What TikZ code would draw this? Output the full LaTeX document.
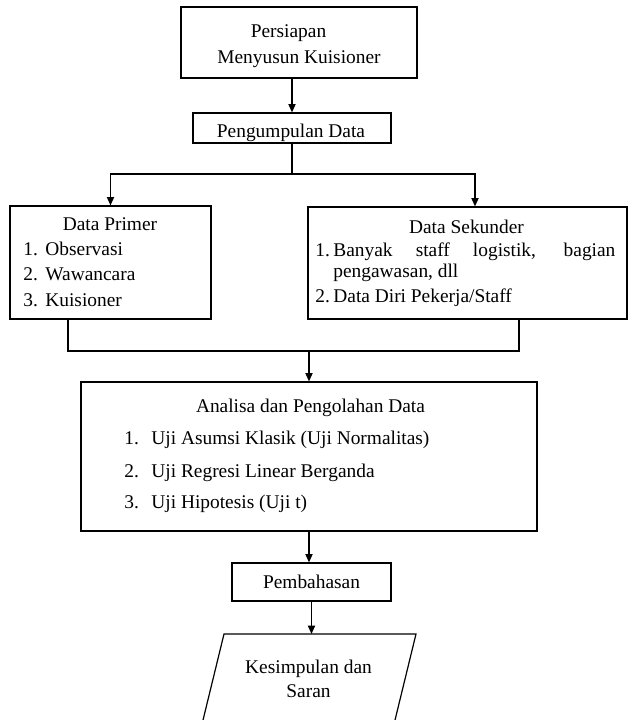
\documentclass[tikz,border=0pt]{standalone}
\usepackage{fontspec}
\setmainfont{Liberation Serif}
\usetikzlibrary{positioning,arrows.meta}

\begin{document}
\begin{tikzpicture}[
        x=0.5pt, y=-0.5pt,
        every node/.style={
            inner sep=0pt,
            font=\fontsize{9.7}{12}\selectfont
        },
        stepbox/.style={
            rectangle,
            draw,
            line width=0.6pt
        },
        txt/.style={anchor=base},
        item/.style={anchor=base west},
        link/.style={line width=0.6pt},
        arrow/.style={
            -{Triangle[width=3.6pt,length=4.2pt]},
            line width=0.6pt
        }
    ]
        \useasboundingbox (0,0) rectangle (632,720);

        % boxes
        \node[stepbox, minimum width=118pt, minimum height=35.5pt] (prep) at (299,42.5) {};
        \node[stepbox, minimum width=99pt, minimum height=15pt] (collect) at (292,128) {};
        \node[stepbox, minimum width=100.5pt, minimum height=56.5pt] (primer) at (110.5,262.5) {};
        \node[stepbox, minimum width=159.5pt, minimum height=56pt] (sekunder) at (467.5,263) {};
        \node[stepbox, minimum width=228pt, minimum height=74.5pt] (analisa) at (309,456.5) {};
        \node[stepbox, minimum width=79.5pt, minimum height=19pt] (bahas) at (311.5,582) {};

        % output parallelogram (runs off the page at the bottom)
        \coordinate (simpNW) at (224,634);
        \coordinate (simpNE) at (416,634);
        \coordinate (simpSE) at (394.3,723);
        \coordinate (simpSW) at (202.3,723);
        \coordinate (simp) at (311.5,634);
        \draw[link] (simpNW) -- (simpNE) -- (simpSE) -- (simpSW) -- cycle;

        % texts
        \node[txt] (prepA) at (288.5,37) {Persiapan};
        \node[txt] (prepB) at (299,63) {Menyusun Kuisioner};
        \node[txt] (collectT) at (291,137) {Pengumpulan Data};

        \node[txt] (primT) at (110,230) {Data Primer};
        \node[item] (prim1) at (23,255) {\makebox[11pt][l]{1.}Observasi};
        \node[item] (prim2) at (23,280) {\makebox[11pt][l]{2.}Wawancara};
        \node[item] (prim3) at (23,306) {\makebox[11pt][l]{3.}Kuisioner};

        \node[txt] (sekT) at (466.5,233) {Data Sekunder};
        \node[item] (sek1) at (315,256) {\makebox[9pt][l]{1.}\makebox[141pt][s]{Banyak staff logistik, bagian}};
        \node[item] (sek1b) at (333,277) {pengawasan, dll};
        \node[item] (sek2) at (315,302) {\makebox[9pt][l]{2.}Data Diri Pekerja/Staff};

        \node[txt] (anaT) at (310.5,412) {Analisa dan Pengolahan Data};
        \node[item] (ana1) at (124,444) {\makebox[13.5pt][l]{1.}Uji Asumsi Klasik (Uji Normalitas)};
        \node[item] (ana2) at (124,477) {\makebox[13.5pt][l]{2.}Uji Regresi Linear Berganda};
        \node[item] (ana3) at (124,508) {\makebox[13.5pt][l]{3.}Uji Hipotesis (Uji t)};

        \node[txt] (bahasT) at (311.5,588) {Pembahasan};
        \node[txt] (simpA) at (308.5,673) {Kesimpulan dan};
        \node[txt] (simpB) at (308.5,697) {Saran};

        % connectors
        \coordinate (split) at (292,174);
        \coordinate (join) at (309,351);
        \draw[arrow] (prep.south -| collect.north) -- (collect.north);
        \draw[link] (collect.south) -- (split);
        \draw[arrow] (split) -| (primer.north);
        \draw[arrow] (split) -| ([xshift=3.75pt]sekunder.north);
        \draw[link] ([xshift=-21.25pt]primer.south) |- (join) -| ([xshift=25.75pt]sekunder.south);
        \draw[arrow] (join) -- (analisa.north);
        \draw[arrow] (analisa.south) -- (analisa.south |- bahas.north);
        \draw[arrow] (bahas.south) -- (bahas.south |- simp);
    \end{tikzpicture}
\end{document}
